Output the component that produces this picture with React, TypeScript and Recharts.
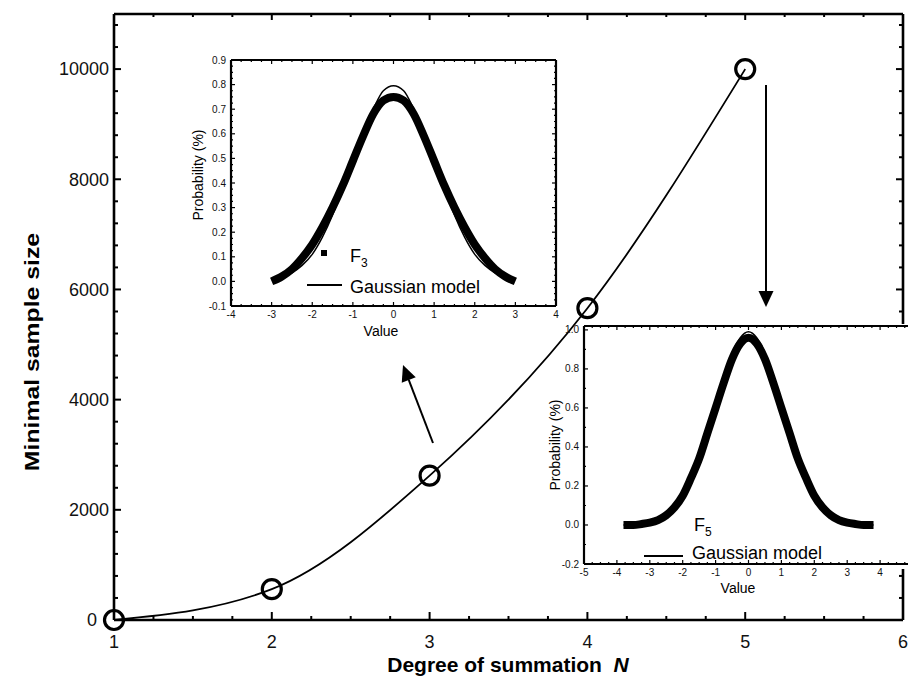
import React from 'react'
import { ComposedChart, Line, XAxis, YAxis } from 'recharts'

// main chart: minimal sample size vs degree of summation
const degree = [1, 2, 3, 4, 5]
const sampleSize = [0, 560, 2620, 5660, 10000]

// inset F3
const f3Value = [-3, -2.75, -2.5, -2.25, -2, -1.75, -1.5, -1.25, -1, -0.75, -0.5, -0.25, 0,
  0.25, 0.5, 0.75, 1, 1.25, 1.5, 1.75, 2, 2.25, 2.5, 2.75, 3]
const f3Prob = [0.0, 0.02, 0.05, 0.095, 0.15, 0.22, 0.3, 0.39, 0.49, 0.59, 0.68, 0.735, 0.75,
  0.735, 0.68, 0.59, 0.49, 0.39, 0.3, 0.22, 0.15, 0.095, 0.05, 0.02, 0.0]
const f3Gauss = [0.008, 0.017, 0.035, 0.065, 0.11, 0.18, 0.27, 0.38, 0.5, 0.61, 0.7, 0.775, 0.795,
  0.775, 0.7, 0.61, 0.5, 0.38, 0.27, 0.18, 0.11, 0.065, 0.035, 0.017, 0.008]

// inset F5
const f5Value = [-3.8, -3.5, -3.25, -3, -2.75, -2.5, -2.25, -2, -1.75, -1.5, -1.25, -1, -0.75, -0.5, -0.25, 0,
  0.25, 0.5, 0.75, 1, 1.25, 1.5, 1.75, 2, 2.25, 2.5, 2.75, 3, 3.25, 3.5, 3.8]
const f5Prob = [0, 0, 0.005, 0.012, 0.025, 0.05, 0.09, 0.15, 0.24, 0.34, 0.47, 0.6, 0.73, 0.85, 0.93, 0.96,
  0.93, 0.85, 0.73, 0.6, 0.47, 0.34, 0.24, 0.15, 0.09, 0.05, 0.025, 0.012, 0.005, 0, 0]
const f5Gauss = [0, 0.001, 0.004, 0.014, 0.03, 0.055, 0.1, 0.16, 0.25, 0.36, 0.48, 0.62, 0.76, 0.88, 0.96, 0.99,
  0.96, 0.88, 0.76, 0.62, 0.48, 0.36, 0.25, 0.16, 0.1, 0.055, 0.03, 0.014, 0.004, 0.001, 0]

const mainData = degree.map((n, i) => ({ n, s: sampleSize[i] }))
const f3Data = f3Value.map((v, i) => ({ v, p: f3Prob[i], g: f3Gauss[i] }))
const f5Data = f5Value.map((v, i) => ({ v, p: f5Prob[i], g: f5Gauss[i] }))

const FONT = '"Liberation Sans", Arial, Helvetica, sans-serif'

function range(from: number, to: number, step: number) {
  const out: number[] = []
  const n = Math.round((to - from) / step)
  for (let i = 0; i <= n; i++) out.push(Math.round((from + i * step) * 10000) / 10000)
  return out
}

type TickOpts = {
  side: 'bottom' | 'top' | 'left' | 'right'
  edge: number
  majorStep: number
  majorLen: number
  minorLen: number
  labels?: boolean
  fontSize?: number
  gap?: number
  fmt?: (v: number) => string
  skip?: (v: number) => boolean
  shift?: (v: number) => number
  stroke?: number
}

function makeTick(o: TickOpts) {
  return (props: any) => {
    const { x, y, payload } = props
    const v = payload.value as number
    const major = Math.abs(v / o.majorStep - Math.round(v / o.majorStep)) < 1e-6
    const len = major ? o.majorLen : o.minorLen
    const sw = o.stroke ?? 1.5
    const showLabel = o.labels && major && !(o.skip && o.skip(v))
    const label = o.fmt ? o.fmt(v) : String(v)
    const dx = o.shift ? o.shift(v) : 0
    let line = null
    let text = null
    if (o.side === 'bottom') {
      line = <line x1={x} x2={x} y1={o.edge} y2={o.edge - len} stroke="#000" strokeWidth={sw} />
      if (showLabel)
        text = <text x={x + dx} y={o.edge + (o.gap ?? 6)} dy="0.71em" textAnchor="middle" fontSize={o.fontSize} fill="#111" fontFamily={FONT}>{label}</text>
    } else if (o.side === 'top') {
      line = <line x1={x} x2={x} y1={o.edge} y2={o.edge + len} stroke="#000" strokeWidth={sw} />
    } else if (o.side === 'left') {
      line = <line x1={o.edge} x2={o.edge + len} y1={y} y2={y} stroke="#000" strokeWidth={sw} />
      if (showLabel)
        text = <text x={o.edge - (o.gap ?? 6) + dx} y={y} dy="0.35em" textAnchor="end" fontSize={o.fontSize} fill="#111" fontFamily={FONT}>{label}</text>
    } else {
      line = <line x1={o.edge} x2={o.edge - len} y1={y} y2={y} stroke="#000" strokeWidth={sw} />
    }
    return <g>{line}{text}</g>
  }
}

const fmt1 = (v: number) => (Math.abs(v) < 1e-9 ? 0 : v).toFixed(1)

function arrowHead(x1: number, y1: number, x2: number, y2: number, len: number, half: number) {
  const dx = x2 - x1
  const dy = y2 - y1
  const d = Math.hypot(dx, dy)
  const ux = dx / d
  const uy = dy / d
  const bx = x2 - ux * len
  const by = y2 - uy * len
  return {
    base: [bx, by],
    pts: `${x2},${y2} ${bx - uy * half},${by + ux * half} ${bx + uy * half},${by - ux * half}`,
  }
}

function Arrow({ x1, y1, x2, y2 }: { x1: number; y1: number; x2: number; y2: number }) {
  const h = arrowHead(x1, y1, x2, y2, 16, 7.5)
  return (
    <g>
      <line x1={x1} y1={y1} x2={h.base[0]} y2={h.base[1]} stroke="#000" strokeWidth={2} />
      <polygon points={h.pts} fill="#000" />
    </g>
  )
}

// main plot box
const PL = 114, PT = 14, PR = 903, PB = 620

function MainChart() {
  const xt = range(1, 6, 0.25)
  const yt = range(0, 10800, 400)
  const axisLine = { stroke: '#000', strokeWidth: 2.6 }
  return (
    <ComposedChart width={908} height={687} data={mainData} margin={{ top: PT - 1, right: 908 - PR - 1, bottom: 0, left: 0 }}>
      <XAxis xAxisId="b" dataKey="n" type="number" domain={[1, 6]} ticks={xt} interval={0} height={687 - PB}
        axisLine={axisLine} tickLine={false}
        tick={makeTick({ side: 'bottom', edge: PB, majorStep: 1, majorLen: 8, minorLen: 4, labels: true, fontSize: 18, gap: 15, stroke: 2 })} />
      <XAxis xAxisId="t" orientation="top" dataKey="n" type="number" domain={[1, 6]} ticks={xt} interval={0} height={1}
        axisLine={axisLine} tickLine={false}
        tick={makeTick({ side: 'top', edge: PT, majorStep: 1, majorLen: 6, minorLen: 3, stroke: 2 })} />
      <YAxis yAxisId="l" type="number" domain={[0, 11000]} ticks={yt} interval={0} width={PL}
        axisLine={axisLine} tickLine={false}
        tick={makeTick({ side: 'left', edge: PL, majorStep: 2000, majorLen: 7, minorLen: 4, labels: true, fontSize: 18, gap: 5, stroke: 2, shift: (v) => (v === 0 ? -12 : 0) })} />
      <YAxis yAxisId="r" orientation="right" type="number" domain={[0, 11000]} ticks={yt} interval={0} width={1}
        axisLine={axisLine} tickLine={false}
        tick={makeTick({ side: 'right', edge: PR, majorStep: 2000, majorLen: 7, minorLen: 4, stroke: 2 })} />
      <Line xAxisId="b" yAxisId="l" dataKey="s" type="monotone" stroke="#000" strokeWidth={1.8} dot={false} isAnimationActive={false} />
      <Line xAxisId="t" yAxisId="r" dataKey="s" stroke="none" isAnimationActive={false}
        dot={{ r: 9.5, stroke: '#000', strokeWidth: 3.2, fill: 'none' }} />
    </ComposedChart>
  )
}

type InsetProps = {
  data: { v: number; p: number; g: number }[]
  width: number
  height: number
  yWidth: number
  xHeight: number
  mTop: number
  mRight: number
  xDomain: [number, number]
  yDomain: [number, number]
  xTicks: number[]
  yTicks: number[]
  yMajor: number
  xSkip?: (v: number) => boolean
  left: number
  top: number
}

function Inset(p: InsetProps) {
  const axisLine = { stroke: '#000', strokeWidth: 2.2 }
  // tick edges in local chart coordinates
  const eL = p.yWidth, eT = p.mTop, eR = p.width - p.mRight, eB = p.height - p.xHeight
  return (
    <div style={{ position: 'absolute', left: p.left, top: p.top }}>
      <ComposedChart width={p.width} height={p.height} data={p.data} margin={{ top: p.mTop - 1, right: p.mRight - 1, bottom: 0, left: 0 }}>
        <XAxis xAxisId="b" dataKey="v" type="number" domain={p.xDomain} ticks={p.xTicks} interval={0} height={p.xHeight}
          axisLine={axisLine} tickLine={false} allowDataOverflow
          tick={makeTick({ side: 'bottom', edge: eB, majorStep: 1, majorLen: 4, minorLen: 2, labels: true, fontSize: 10, gap: 5, stroke: 1.2, skip: p.xSkip })} />
        <XAxis xAxisId="t" orientation="top" dataKey="v" type="number" domain={p.xDomain} ticks={p.xTicks} interval={0} height={1}
          axisLine={axisLine} tickLine={false} allowDataOverflow
          tick={makeTick({ side: 'top', edge: eT, majorStep: 1, majorLen: 4, minorLen: 2, stroke: 1.2 })} />
        <YAxis yAxisId="l" type="number" domain={p.yDomain} ticks={p.yTicks} interval={0} width={p.yWidth}
          axisLine={axisLine} tickLine={false} allowDataOverflow
          tick={makeTick({ side: 'left', edge: eL, majorStep: p.yMajor, majorLen: 4, minorLen: 2, labels: true, fontSize: 10, gap: 5, fmt: fmt1, stroke: 1.2 })} />
        <YAxis yAxisId="r" orientation="right" type="number" domain={p.yDomain} ticks={p.yTicks} interval={0} width={1}
          axisLine={axisLine} tickLine={false} allowDataOverflow
          tick={makeTick({ side: 'right', edge: eR, majorStep: p.yMajor, majorLen: 4, minorLen: 2, stroke: 1.2 })} />
        <Line xAxisId="t" yAxisId="r" dataKey="g" type="monotone" stroke="#000" strokeWidth={1.5} dot={false} isAnimationActive={false} />
        <Line xAxisId="b" yAxisId="l" dataKey="p" type="monotone" stroke="#000" strokeWidth={8} strokeLinecap="butt" dot={false} isAnimationActive={false} />
      </ComposedChart>
    </div>
  )
}

const abs = (left: number, top: number, extra: React.CSSProperties = {}): React.CSSProperties => ({
  position: 'absolute', left, top, whiteSpace: 'nowrap', fontFamily: FONT, color: '#000', lineHeight: '18px', ...extra,
})

export default function App() {
  return (
    <div style={{ position: 'absolute', left: 0, top: 0, width: 908, height: 687, overflow: 'hidden', background: '#fff', fontFamily: FONT }}>
      <div style={{ position: 'absolute', left: 0, top: 0 }}>
        <MainChart />
      </div>

      {/* axis titles */}
      <div style={abs(32, 352, { transform: 'translate(-50%, -50%) rotate(-90deg) scaleX(1.18)', fontSize: 21, fontWeight: 'bold', lineHeight: '24px' })}>
        Minimal sample size
      </div>
      <div style={abs(508, 665, { transform: 'translate(-50%, -50%)', fontSize: 21, fontWeight: 'bold', lineHeight: '24px' })}>
        Degree of summation&nbsp;&nbsp;<i>N</i>
      </div>

      {/* inset F3 */}
      <Inset data={f3Data} left={180} top={50} width={386} height={290} yWidth={51} xHeight={34} mTop={10} mRight={10}
        xDomain={[-4, 4]} yDomain={[-0.1, 0.9]} xTicks={range(-4, 4, 0.25)} yTicks={range(-0.1, 0.9, 0.025)} yMajor={0.1} />
      <div style={abs(198, 175, { transform: 'translate(-50%, -50%) rotate(-90deg)', fontSize: 14 })}>Probability (%)</div>
      <div style={abs(381, 331, { transform: 'translate(-50%, -50%)', fontSize: 14 })}>Value</div>
      <div style={{ position: 'absolute', left: 321, top: 250, width: 6, height: 6, background: '#000' }} />
      <div style={abs(350, 247, { fontSize: 18 })}>F<span style={{ fontSize: 12, position: 'relative', top: 5 }}>3</span></div>
      <div style={{ position: 'absolute', left: 307, top: 284, width: 35, height: 2, background: '#000' }} />
      <div style={abs(350, 278, { fontSize: 18 })}>Gaussian model</div>

      {/* inset F5 */}
      <div style={{ position: 'absolute', left: 584, top: 324, width: 330, height: 245, background: '#fff' }} />
      <Inset data={f5Data} left={540} top={316} width={374} height={282} yWidth={44} xHeight={34} mTop={10} mRight={1}
        xDomain={[-5, 5]} yDomain={[-0.2, 1.02]} xTicks={range(-5, 5, 0.25)} yTicks={range(-0.2, 1.0, 0.1)} yMajor={0.2}
        xSkip={(v) => v >= 5} />
      <div style={abs(555, 445, { transform: 'translate(-50%, -50%) rotate(-90deg)', fontSize: 14 })}>Probability (%)</div>
      <div style={abs(738, 588, { transform: 'translate(-50%, -50%)', fontSize: 14 })}>Value</div>
      <div style={abs(694, 516, { fontSize: 18 })}>F<span style={{ fontSize: 12, position: 'relative', top: 5 }}>5</span></div>
      <div style={{ position: 'absolute', left: 644, top: 555, width: 39, height: 2, background: '#000' }} />
      <div style={abs(692, 544, { fontSize: 18 })}>Gaussian model</div>

      {/* arrows */}
      <svg width={908} height={687} style={{ position: 'absolute', left: 0, top: 0, pointerEvents: 'none' }}>
        <Arrow x1={433} y1={443} x2={403} y2={365} />
        <Arrow x1={766} y1={85} x2={766} y2={307} />
      </svg>
    </div>
  )
}
